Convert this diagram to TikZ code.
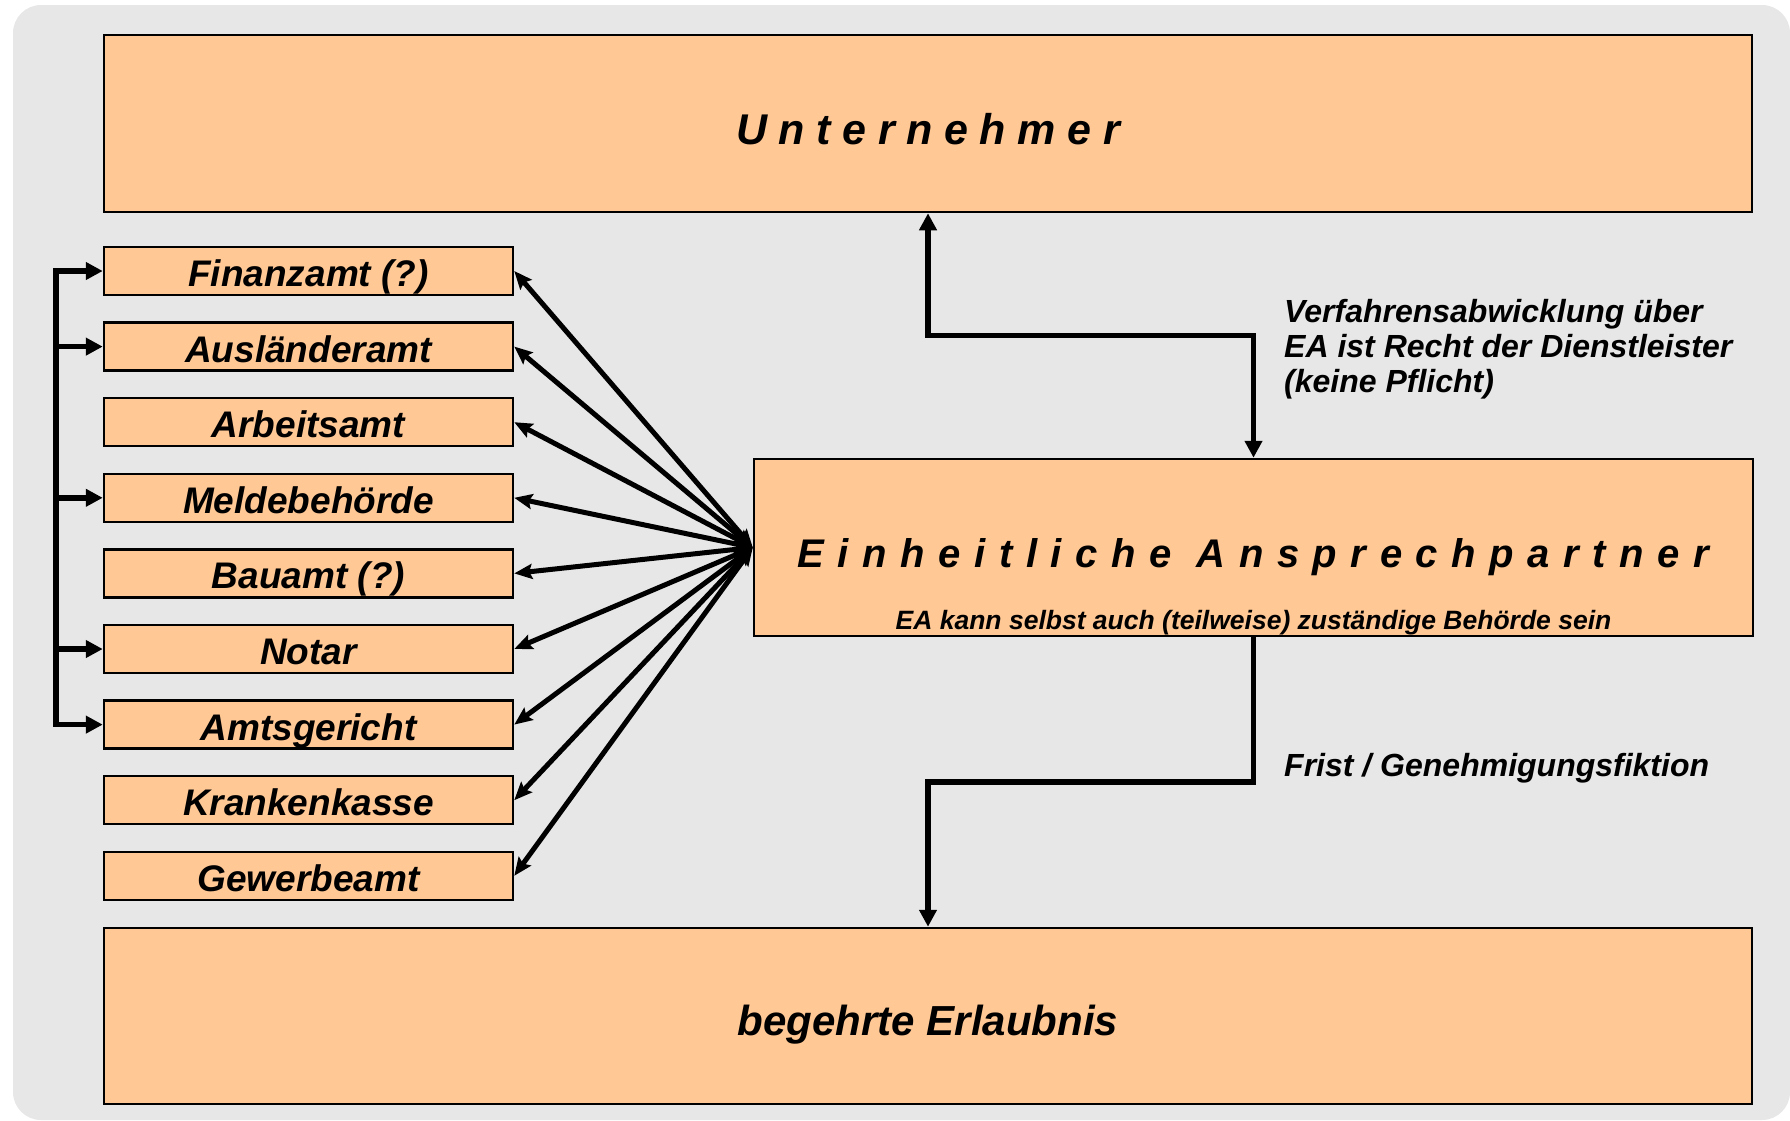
\documentclass[tikz,border=0pt]{standalone}
\usepackage{fontspec}
\setmainfont{Liberation Sans}
\usetikzlibrary{arrows.meta,calc}
\definecolor{boxfill}{HTML}{FFC895}
\definecolor{bggray}{HTML}{E7E7E7}

\begin{document}
\begin{tikzpicture}[x=1pt,y=1pt,yscale=-1,
    bigbox/.style={draw=black,line width=2.5pt,fill=boxfill,inner sep=0pt,text depth=0pt},
    amtbox/.style={draw=black,line width=2.5pt,fill=boxfill,inner sep=0pt,minimum width=409pt,minimum height=48pt,text height=31pt,text depth=0pt,font=\fontsize{37}{40}\selectfont\bfseries\itshape},
    note/.style={inner sep=0pt,align=left,font=\fontsize{32}{35}\selectfont\bfseries\itshape},
    link/.style={line width=5.5pt,-{Triangle[length=17pt,width=17pt]}},
    twolink/.style={line width=5.5pt,{Triangle[length=17pt,width=17pt]}-{Triangle[length=17pt,width=17pt]}},
    fan/.style={line width=5pt,{Stealth[length=18pt,width=15pt,inset=3pt]}-{Stealth[length=18pt,width=15pt,inset=3pt]}}]
        \useasboundingbox (0,0) rectangle (1790,1120);

        %Shape: Rounded Rect (background)
        \fill[bggray,rounded corners=28pt] (13,5) rectangle (1790,1120);

        %Shape: Rectangle -- top
        \node[bigbox,minimum width=1648pt,minimum height=177pt,text height=41pt,font=\fontsize{43}{50}\selectfont\bfseries\itshape\addfontfeature{LetterSpace=27}] (unt) at (928,123.5) {Unternehmer};
        %Shape: Rectangle -- middle
        \node[bigbox,minimum width=999pt,minimum height=177pt,text height=39pt,font=\fontsize{40}{48}\selectfont\bfseries\itshape\addfontfeature{LetterSpace=34}] (ea) at (1253.5,547.5) {Einheitliche Ansprechpartner};
        %Shape: Rectangle -- bottom
        \node[bigbox,minimum width=1648pt,minimum height=176pt,text height=38pt,font=\fontsize{42}{50}\selectfont\bfseries\itshape] (erl) at (928,1016) {begehrte Erlaubnis};

        % Text Node
        \node[inner sep=0pt,anchor=base,font=\fontsize{26.5}{30}\selectfont\bfseries\itshape] (easub) at ($(ea.south)+(0,-8)$) {EA kann selbst auch (teilweise) zuständige Behörde sein};

        %Shape: Rectangle -- authorities
        \node[amtbox] (fin) at (308.5,271) {Finanzamt (?)};
        \node[amtbox] (ausl) at (308.5,346.6) {Ausländeramt};
        \node[amtbox] (arb) at (308.5,422.2) {Arbeitsamt};
        \node[amtbox] (meld) at (308.5,497.8) {Meldebehörde};
        \node[amtbox] (bau) at (308.5,573.4) {Bauamt (?)};
        \node[amtbox] (notar) at (308.5,649) {Notar};
        \node[amtbox] (amtsg) at (308.5,724.6) {Amtsgericht};
        \node[amtbox] (kranken) at (308.5,800.2) {Krankenkasse};
        \node[amtbox] (gewerbe) at (308.5,875.8) {Gewerbeamt};

        %Straight Lines -- left bracket
        \coordinate (brtop) at (56,271);
        \coordinate (brbot) at (56,724.6);
        \draw[line width=5.5pt,line cap=rect] (brtop) -- (brbot);
        \draw[link] (brtop) -- (fin.west);
        \draw[link] (brtop |- ausl.west) -- (ausl.west);
        \draw[link] (brtop |- meld.west) -- (meld.west);
        \draw[link] (brtop |- notar.west) -- (notar.west);
        \draw[link] (brbot) -- (amtsg.west);

        %Straight Lines -- fan
        \draw[fan] (ea.west) -- (fin.east);
        \draw[fan] (ea.west) -- (ausl.east);
        \draw[fan] (ea.west) -- (arb.east);
        \draw[fan] (ea.west) -- (meld.east);
        \draw[fan] (ea.west) -- (bau.east);
        \draw[fan] (ea.west) -- (notar.east);
        \draw[fan] (ea.west) -- (amtsg.east);
        \draw[fan] (ea.west) -- (kranken.east);
        \draw[fan] (ea.west) -- (gewerbe.east);

        %Straight Lines -- elbows
        \draw[twolink] (unt.south) |- ($(unt.south)!.5!(ea.north)$) -| (ea.north);
        \draw[link] (ea.south) |- ($(ea.south)!.5!(erl.north)$) -| (erl.north);

        % Text Node
        \node[note,anchor=north west] (verf) at (1284,299.5) {Verfahrensabwicklung über\\EA ist Recht der Dienstleister\\(keine Pflicht)};
        % Text Node
        \node[note,anchor=base west] (frist) at (1284,776) {Frist / Genehmigungsfiktion};
\end{tikzpicture}
\end{document}
